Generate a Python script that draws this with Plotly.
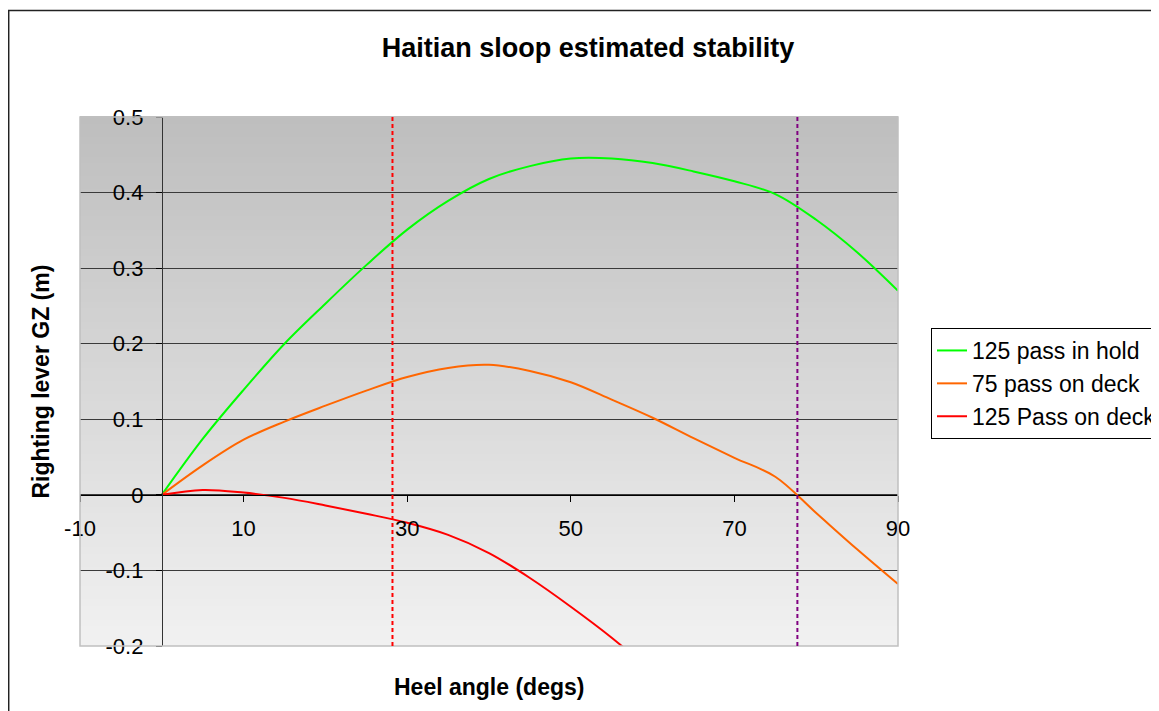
import plotly.graph_objects as go

# ---------------- data ----------------
angles = [0, 5, 10, 15, 20, 25, 30, 35, 40, 45, 50, 55, 60, 65, 70, 75, 80, 85, 90]
gz_125_hold = [0, 0.074, 0.139, 0.200, 0.253, 0.304, 0.351, 0.389, 0.418, 0.435, 0.445,
               0.445, 0.439, 0.428, 0.415, 0.398, 0.364, 0.321, 0.270]
gz_75_deck = [0, 0.039, 0.073, 0.097, 0.118, 0.138, 0.156, 0.168, 0.172, 0.164, 0.149,
              0.126, 0.102, 0.075, 0.049, 0.024, -0.024, -0.072, -0.118]
angles_125_deck = [0, 5, 10, 15, 20, 25, 30, 35, 40, 45, 50, 55, 60]
gz_125_deck = [0, 0.0065, 0.003, -0.004, -0.014, -0.025, -0.037, -0.053, -0.077,
               -0.110, -0.148, -0.189, -0.235]

series_names = ["125 pass in hold", "75 pass on deck", "125 Pass on deck"]
series_colors = ["#00FF00", "#FF6600", "#FF0000"]

limit_angles = [28.2, 77.7]
limit_colors = ["#FF0000", "#800080"]

x_tickvals = [-10, 10, 30, 50, 70, 90]
x_ticktext = ["-10", "10", "30", "50", "70", "90"]
y_tickvals = [-0.2, -0.1, 0, 0.1, 0.2, 0.3, 0.4, 0.5]
y_ticktext = ["-0.2", "-0.1", "0", "0.1", "0.2", "0.3", "0.4", "0.5"]

x_range = [-10, 90]
y_range = [-0.2, 0.5]

FONT = "Arial, Liberation Sans, sans-serif"

# ---------------- figure ----------------
OFF = 8  # page body margin
W, H = 1159 - OFF, 711 - OFF
PL, PR, PT, PB = 80, 898, 117, 646  # plot area in page pixels
ML, MT = PL - OFF, PT - OFF
MR = W - (PR - OFF)
MB = H - (PB - OFF)
pw, ph = PR - PL, PB - PT

fig = go.Figure()
xs_list = [angles, angles, angles_125_deck]
ys_list = [gz_125_hold, gz_75_deck, gz_125_deck]
for name, col, xs, ys in zip(series_names, series_colors, xs_list, ys_list):
    fig.add_trace(go.Scatter(x=xs, y=ys, name=name, mode="lines",
                             line=dict(color=col, width=2, shape="spline", smoothing=1.0)))

shapes = []
# gradient background of the plot area
n = 80
c_top, c_bot = 190, 241
for i in range(n):
    f = i / (n - 1)
    c = round(c_bot + (c_top - c_bot) * f)
    shapes.append(dict(type="rect", xref="x domain", yref="y domain",
                       x0=0, x1=1, y0=i / n, y1=(i + 1) / n + 0.002,
                       fillcolor=f"rgb({c},{c},{c})", line=dict(width=0), layer="below"))
# plot-area border
shapes.append(dict(type="rect", xref="x domain", yref="y domain", x0=0, x1=1, y0=0, y1=1,
                   line=dict(color="#C0C0C0", width=1.5), fillcolor="rgba(0,0,0,0)", layer="above"))
# vertical limit lines
for a, c in zip(limit_angles, limit_colors):
    shapes.append(dict(type="line", xref="x", yref="y domain", x0=a, x1=a, y0=0, y1=1,
                       line=dict(color=c, width=2, dash="4px,3px"), layer="above"))
# outer chart border
shapes.append(dict(type="rect", xref="paper", yref="paper",
                   x0=(8.7 - PL) / pw, x1=1.6, y0=-0.5, y1=(PB - 10.5) / ph,
                   line=dict(color="#222222", width=1.5), fillcolor="rgba(0,0,0,0)", layer="above"))

annotations = [
    dict(text="<b>Heel angle (degs)</b>", xref="paper", yref="paper",
         x=0.5, y=(PB - 687) / ph, showarrow=False, xanchor="center", yanchor="middle",
         font=dict(family=FONT, size=23, color="black")),
    dict(text="<b>Righting lever GZ (m)</b>", xref="paper", yref="paper",
         x=(40 - PL) / pw, y=0.5, showarrow=False, xanchor="center", yanchor="middle",
         textangle=-90, font=dict(family=FONT, size=23, color="black")),
]

fig.update_layout(
    width=W, height=H,
    margin=dict(l=ML, r=MR, t=MT, b=MB, autoexpand=False),
    paper_bgcolor="white", plot_bgcolor="#DDDDDD",
    title=dict(text="<b>Haitian sloop estimated stability</b>", x=(588 - OFF) / W,
               y=1 - (48 - OFF) / H, xanchor="center", yanchor="middle",
               font=dict(family=FONT, size=27, color="black")),
    font=dict(family=FONT, size=22, color="black"),
    shapes=shapes,
    annotations=annotations,
    legend=dict(x=(931 - PL) / pw, y=(PB - 328) / ph, xanchor="left", yanchor="top",
                bordercolor="black", borderwidth=1, bgcolor="white",
                font=dict(family=FONT, size=23, color="black"),
                tracegroupgap=0),
    xaxis=dict(range=x_range, tickvals=x_tickvals, ticktext=x_ticktext,
               anchor="free", position=(0 - y_range[0]) / (y_range[1] - y_range[0]),
               showline=True, linecolor="black", linewidth=1,
               ticks="outside", ticklen=6, tickcolor="black", tickwidth=1,
               ticklabelstandoff=8,
               showgrid=False, zeroline=False,
               tickfont=dict(family=FONT, size=22, color="black")),
    yaxis=dict(range=y_range, tickvals=y_tickvals, ticktext=y_ticktext,
               anchor="free", position=(0 - x_range[0]) / (x_range[1] - x_range[0]),
               showline=True, linecolor="#333333", linewidth=1,
               ticks="outside", ticklen=6, tickcolor="black", tickwidth=1,
               ticklabelstandoff=8,
               showgrid=True, gridcolor="#3A3A3A", gridwidth=1, zeroline=False,
               tickfont=dict(family=FONT, size=22, color="black")),
)

fig.write_html("out.html")
